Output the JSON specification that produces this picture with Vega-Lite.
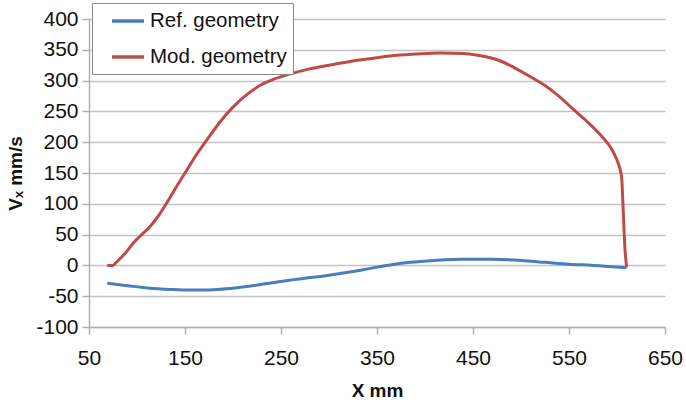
{
  "$schema": "https://vega.github.io/schema/vega-lite/v6.json",
  "width": 576,
  "height": 308,
  "autosize": {"type": "none"},
  "padding": {"left": 89, "top": 19, "right": 21, "bottom": 80},
  "background": "white",
  "config": {
    "font": "Liberation Sans",
    "view": {"stroke": null},
    "axis": {
      "gridColor": "#c4c4c4",
      "gridWidth": 1.5,
      "domainColor": "#b0b0b0",
      "domainWidth": 1.5,
      "tickColor": "#b0b0b0",
      "tickWidth": 1.5,
      "tickSize": 7,
      "labelFontSize": 21,
      "labelColor": "#111",
      "labelExpr": "toString(datum.value)",
      "titleFontSize": 19,
      "titleFontWeight": "bold",
      "titleColor": "#111"
    }
  },
  "data": {
    "values": [
      {"series": "Ref. geometry", "x": 69, "v": -29},
      {"series": "Ref. geometry", "x": 90, "v": -33},
      {"series": "Ref. geometry", "x": 113, "v": -37},
      {"series": "Ref. geometry", "x": 135, "v": -39},
      {"series": "Ref. geometry", "x": 155, "v": -40},
      {"series": "Ref. geometry", "x": 175, "v": -40},
      {"series": "Ref. geometry", "x": 200, "v": -37},
      {"series": "Ref. geometry", "x": 225, "v": -32},
      {"series": "Ref. geometry", "x": 250, "v": -26},
      {"series": "Ref. geometry", "x": 275, "v": -21},
      {"series": "Ref. geometry", "x": 300, "v": -16},
      {"series": "Ref. geometry", "x": 325, "v": -10},
      {"series": "Ref. geometry", "x": 346, "v": -4},
      {"series": "Ref. geometry", "x": 365, "v": 1},
      {"series": "Ref. geometry", "x": 385, "v": 5},
      {"series": "Ref. geometry", "x": 410, "v": 8},
      {"series": "Ref. geometry", "x": 440, "v": 10},
      {"series": "Ref. geometry", "x": 470, "v": 10},
      {"series": "Ref. geometry", "x": 500, "v": 8},
      {"series": "Ref. geometry", "x": 525, "v": 5},
      {"series": "Ref. geometry", "x": 550, "v": 2},
      {"series": "Ref. geometry", "x": 575, "v": 0},
      {"series": "Ref. geometry", "x": 595, "v": -2},
      {"series": "Ref. geometry", "x": 610, "v": -4},
      {"series": "Mod. geometry", "x": 69, "v": 0},
      {"series": "Mod. geometry", "x": 75, "v": 0},
      {"series": "Mod. geometry", "x": 79, "v": 6},
      {"series": "Mod. geometry", "x": 88, "v": 20},
      {"series": "Mod. geometry", "x": 96, "v": 36},
      {"series": "Mod. geometry", "x": 105, "v": 50},
      {"series": "Mod. geometry", "x": 113, "v": 62},
      {"series": "Mod. geometry", "x": 123, "v": 82},
      {"series": "Mod. geometry", "x": 132, "v": 104},
      {"series": "Mod. geometry", "x": 142, "v": 130},
      {"series": "Mod. geometry", "x": 152, "v": 155},
      {"series": "Mod. geometry", "x": 162, "v": 180},
      {"series": "Mod. geometry", "x": 173, "v": 204},
      {"series": "Mod. geometry", "x": 186, "v": 232},
      {"series": "Mod. geometry", "x": 200, "v": 257},
      {"series": "Mod. geometry", "x": 215, "v": 278},
      {"series": "Mod. geometry", "x": 228, "v": 292},
      {"series": "Mod. geometry", "x": 242, "v": 302},
      {"series": "Mod. geometry", "x": 260, "v": 311},
      {"series": "Mod. geometry", "x": 280, "v": 319},
      {"series": "Mod. geometry", "x": 300, "v": 325},
      {"series": "Mod. geometry", "x": 322, "v": 331},
      {"series": "Mod. geometry", "x": 340, "v": 335},
      {"series": "Mod. geometry", "x": 364, "v": 340},
      {"series": "Mod. geometry", "x": 390, "v": 343},
      {"series": "Mod. geometry", "x": 416, "v": 345},
      {"series": "Mod. geometry", "x": 440, "v": 344},
      {"series": "Mod. geometry", "x": 455, "v": 341},
      {"series": "Mod. geometry", "x": 468, "v": 337},
      {"series": "Mod. geometry", "x": 480, "v": 331},
      {"series": "Mod. geometry", "x": 492, "v": 322},
      {"series": "Mod. geometry", "x": 509, "v": 307},
      {"series": "Mod. geometry", "x": 525, "v": 292},
      {"series": "Mod. geometry", "x": 540, "v": 274},
      {"series": "Mod. geometry", "x": 554, "v": 254},
      {"series": "Mod. geometry", "x": 570, "v": 232},
      {"series": "Mod. geometry", "x": 585, "v": 208},
      {"series": "Mod. geometry", "x": 594, "v": 190},
      {"series": "Mod. geometry", "x": 600, "v": 171},
      {"series": "Mod. geometry", "x": 603, "v": 157},
      {"series": "Mod. geometry", "x": 605, "v": 140},
      {"series": "Mod. geometry", "x": 606, "v": 106},
      {"series": "Mod. geometry", "x": 607, "v": 70},
      {"series": "Mod. geometry", "x": 608, "v": 35},
      {"series": "Mod. geometry", "x": 610, "v": -3}
    ]
  },
  "mark": {"type": "line", "strokeWidth": 3, "interpolate": "monotone"},
  "encoding": {
    "x": {
      "field": "x",
      "type": "quantitative",
      "title": "X mm",
      "scale": {"domain": [50, 650], "nice": false, "zero": false},
      "axis": {
        "values": [50, 150, 250, 350, 450, 550, 650],
        "grid": false,
        "labelFlush": false,
        "labelPadding": 13,
        "titlePadding": 13
      }
    },
    "y": {
      "field": "v",
      "type": "quantitative",
      "title": "Vₓ mm/s",
      "scale": {"domain": [-100, 400], "nice": false},
      "axis": {
        "values": [-100, -50, 0, 50, 100, 150, 200, 250, 300, 350, 400],
        "labelPadding": 4,
        "titlePadding": 10
      }
    },
    "color": {
      "field": "series",
      "type": "nominal",
      "scale": {
        "domain": ["Ref. geometry", "Mod. geometry"],
        "range": ["#4a7ebb", "#be4b48"]
      },
      "legend": {
        "title": null,
        "orient": "none",
        "legendX": 3,
        "legendY": -16,
        "symbolType": "M-1.6,0H1.6",
        "symbolSize": 400,
        "symbolStrokeWidth": 3.5,
        "symbolOffset": 18,
        "labelFontSize": 20.5,
        "labelColor": "#111",
        "labelOffset": 10,
        "rowPadding": 13,
        "padding": 6,
        "fillColor": "white",
        "strokeColor": "#888"
      }
    }
  }
}
